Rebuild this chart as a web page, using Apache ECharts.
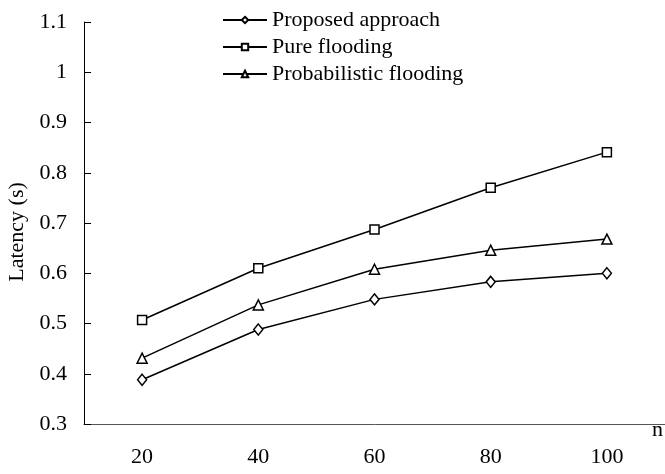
<!DOCTYPE html>
<html>
<head>
<meta charset="utf-8">
<script src="https://cdn.jsdelivr.net/npm/echarts@6/dist/echarts.min.js"></script>
<style>html,body{margin:0;padding:0;background:#fff;}#c{width:665px;height:474px;}</style>
</head>
<body>
<div id="c"></div>
<script>
const categories = ['20', '40', '60', '80', '100'];
const proposed = [0.388, 0.488, 0.548, 0.583, 0.600];
const pureFlooding = [0.507, 0.610, 0.687, 0.770, 0.841];
const probabilistic = [0.431, 0.537, 0.608, 0.646, 0.668];
const seriesNames = ['Proposed approach', 'Pure flooding', 'Probabilistic flooding'];

const FONT = "'Liberation Serif', 'Times New Roman', serif";
function mk(name, data, symbol, size) {
  return {
    name: name, type: 'line', data: data, symbol: symbol, symbolSize: size,
    showAllSymbol: true,
    lineStyle: { color: '#000', width: 1.5 },
    itemStyle: { color: '#fff', borderColor: '#000', borderWidth: 1.5 },
    emphasis: { disabled: true }
  };
}
const chart = echarts.init(document.getElementById('c'));
chart.setOption({
  animation: false,
  backgroundColor: '#fff',
  textStyle: { fontFamily: FONT, color: '#000' },
  grid: { left: 84, right: 0, top: 22, bottom: 50, containLabel: false, outerBoundsMode: 'none' },
  legend: {
    orient: 'vertical', left: 222, top: 9, padding: 0, itemWidth: 44, itemHeight: 8, itemGap: 5,
    textStyle: { fontFamily: FONT, fontSize: 22, color: '#000' },
    data: seriesNames
  },
  xAxis: {
    type: 'category', data: categories, boundaryGap: true,
    name: 'n', nameLocation: 'end', nameGap: -13,
    nameTextStyle: { fontFamily: FONT, fontSize: 22, color: '#000', verticalAlign: 'top', padding: [-5, 0, 0, 0] },
    axisLine: { lineStyle: { color: '#555', width: 1 } },
    axisTick: { inside: true, length: 7, lineStyle: { color: '#555' } },
    axisLabel: { margin: 22, fontFamily: FONT, fontSize: 22, color: '#000' },
    splitLine: { show: false }
  },
  yAxis: {
    type: 'value', min: 0.3, max: 1.1, interval: 0.1,
    name: 'Latency (s)', nameLocation: 'middle', nameGap: 55, nameRotate: 90,
    nameTextStyle: { fontFamily: FONT, fontSize: 22, color: '#000', padding: [0, 18, 0, 0] },
    axisLine: { show: true, lineStyle: { color: '#000', width: 1 } },
    axisTick: { show: true, inside: true, length: 7, lineStyle: { color: '#000' } },
    axisLabel: { margin: 17, fontFamily: FONT, fontSize: 22, color: '#000',
      formatter: v => (Math.round(v * 10) / 10).toString() },
    splitLine: { show: false }
  },
  series: [
    mk(seriesNames[0], proposed, 'diamond', [9, 11]),
    mk(seriesNames[1], pureFlooding, 'rect', 9),
    mk(seriesNames[2], probabilistic, 'triangle', 10)
  ]
});
</script>
</body>
</html>
